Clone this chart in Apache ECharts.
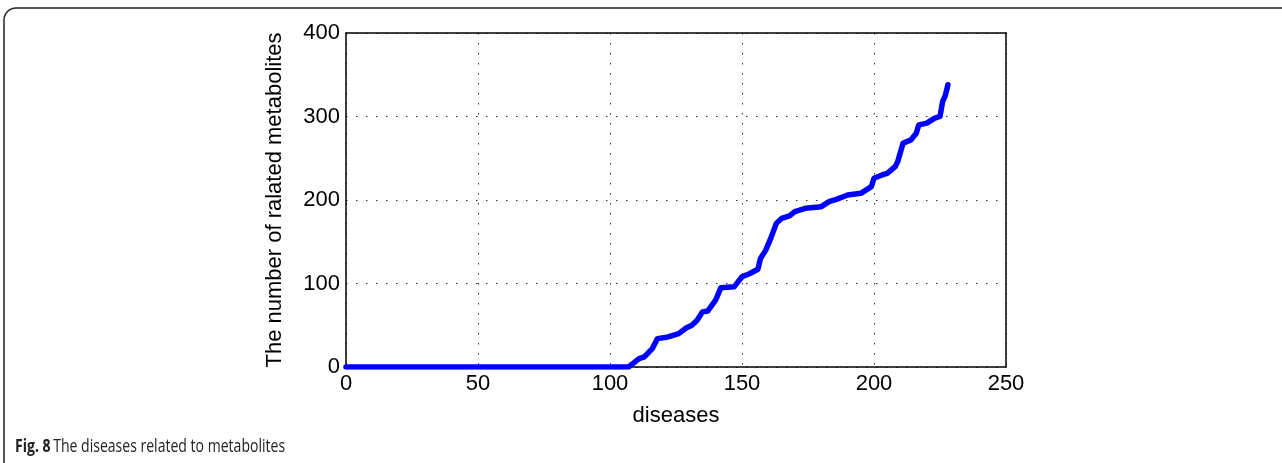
<!DOCTYPE html>
<html>
<head>
<meta charset="utf-8">
<script src="https://cdn.jsdelivr.net/npm/echarts@6/dist/echarts.min.js"></script>
<style>
  html, body { margin: 0; padding: 0; background: #fff; }
  #chart { width: 1282px; height: 463px; }
</style>
</head>
<body>
<div id="chart"></div>
<script>
// diseases sorted by number of related metabolites
var diseaseIdx = [0, 107, 109, 111, 113, 116, 118, 122, 126, 129, 131, 133, 135, 137, 140, 142, 147, 150, 153, 156, 157, 159, 161, 163, 165, 168, 170, 174, 177, 180, 183, 186, 190, 195, 199, 200, 203, 205, 208, 209, 211, 214, 216, 217, 220, 223, 225, 226, 227, 228];
var metaboliteCount = [0, 0, 5, 10, 12, 22, 34, 36, 40, 47, 50, 56, 66, 67, 80, 95, 96, 108, 112, 117, 130, 140, 155, 172, 178, 181, 186, 190, 191, 192, 198, 201, 206, 208, 216, 226, 230, 232, 240, 246, 268, 272, 280, 290, 292, 298, 300, 318, 325, 338];

var chart = echarts.init(document.getElementById('chart'));

var labelFont = { fontFamily: 'Liberation Sans, Arial, sans-serif', fontSize: 22, color: '#000' };
var gridDots = { show: true, lineStyle: { color: '#333', width: 1, type: [1.5, 8.5] } };
var frameLine = { show: true, onZero: false, lineStyle: { color: '#000', width: 1.5 } };

var points = [];
for (var i = 0; i < diseaseIdx.length; i++) {
  points.push([diseaseIdx[i], metaboliteCount[i]]);
}

var option = {
  animation: false,
  grid: { left: 346, right: 276, top: 33, bottom: 96 },
  graphic: [{
    type: 'rect',
    shape: { x: 4, y: 8, width: 1320, height: 500, r: 12 },
    style: { fill: 'none', stroke: '#222', lineWidth: 1.5 },
    silent: true
  }, {
    type: 'text',
    x: 15, y: 438,
    scaleX: 0.78,
    style: {
      rich: {
        b: { fontFamily: 'Open Sans, sans-serif', fontWeight: 'bold', fontSize: 18, fill: '#222' },
        n: { fontFamily: 'Open Sans, sans-serif', fontSize: 18, fill: '#222' }
      },
      text: '{b|Fig. 8} {n|The diseases related to metabolites}'
    }
  }],
  xAxis: [{
    type: 'value', min: 0, max: 250, interval: 50,
    name: 'diseases', nameLocation: 'middle', nameGap: 38,
    nameTextStyle: labelFont,
    axisLine: frameLine,
    axisTick: { show: false },
    axisLabel: Object.assign({ margin: 6 }, labelFont),
    splitLine: gridDots
  }, {
    type: 'value', min: 0, max: 250, interval: 50, position: 'top',
    axisLine: frameLine,
    axisTick: { show: false },
    axisLabel: { show: false }, splitLine: { show: false }
  }],
  yAxis: [{
    type: 'value', min: 0, max: 400, interval: 100,
    name: 'The number of ralated metabolites', nameLocation: 'middle', nameGap: 60,
    nameTextStyle: labelFont,
    axisLine: frameLine,
    axisTick: { show: false },
    axisLabel: Object.assign({ margin: 6 }, labelFont),
    splitLine: gridDots
  }, {
    type: 'value', min: 0, max: 400, interval: 100, position: 'right',
    axisLine: frameLine,
    axisTick: { show: false },
    axisLabel: { show: false }, splitLine: { show: false }
  }],
  series: [{
    type: 'line',
    data: points,
    showSymbol: false,
    lineStyle: { color: '#0000ff', width: 5.5, join: 'round', cap: 'round' },
    z: 5
  }]
};
chart.setOption(option);
</script>
</body>
</html>
